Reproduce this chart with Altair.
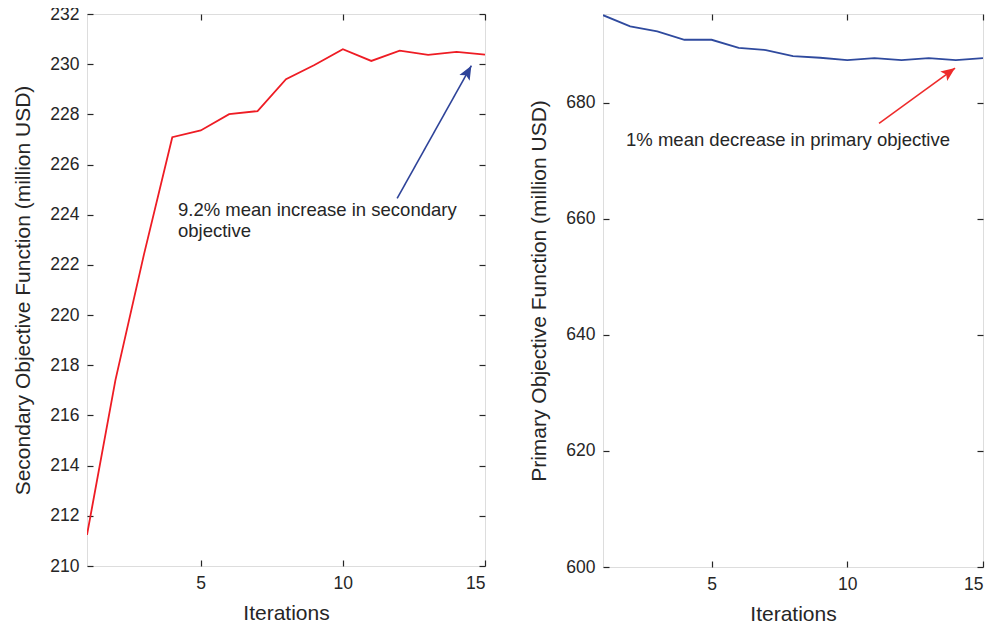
import math
import altair as alt
import pandas as pd

# ---------------- data ----------------
iterations = list(range(1, 16))
secondary = [211.24, 217.41, 222.4, 227.09, 227.36, 228.01, 228.13, 229.40,
             229.97, 230.60, 230.13, 230.54, 230.37, 230.49, 230.38]
primary = [695.1, 693.17, 692.31, 690.86, 690.86, 689.48, 689.09, 688.05,
           687.76, 687.36, 687.7, 687.36, 687.7, 687.36, 687.7]

sec_ticks = [210, 212, 214, 216, 218, 220, 222, 224, 226, 228, 230, 232]
prim_ticks = [600, 620, 640, 660, 680]
x_ticks = [5, 10, 15]

# annotations (data coordinates)
sec_arrow = dict(x=11.91, y=224.65, x2=14.52, y2=229.94)
sec_text = dict(x=4.2, y=224.19, lines=["9.2% mean increase in secondary", "objective"])
prim_arrow = dict(x=11.17, y=676.45, x2=13.97, y2=685.98)
prim_text = dict(x=1.85, y=673.6, lines=["1% mean decrease in primary objective"])

FONT = "Liberation Sans"
TXT = "#262626"
W1, H1 = 398, 552
W2, H2 = 380, 553
TICK = 6

ARROW_PATH = "M0,0L0.42,1L0,0.78L-0.42,1Z"


def make_panel(values, ydom, yticks, ytitle, color, arrow, text, acolor, W, H):
    df = pd.DataFrame({"it": iterations, "v": values})
    xs = alt.Scale(domain=[1, 15], nice=False, zero=False)
    ys = alt.Scale(domain=ydom, nice=False, zero=False)

    xaxis = alt.Axis(values=x_ticks, title="Iterations", domain=False, offset=-TICK,
                     tickSize=TICK, tickColor=TXT, tickWidth=1.2, labelPadding=8.5,
                     labelFontSize=17.5, labelColor=TXT, labelFont=FONT, grid=False,
                     titleFontSize=21, titleFont=FONT, titleColor=TXT, titleFontWeight="normal",
                     titlePadding=10)
    yaxis = alt.Axis(values=yticks, title=ytitle, domain=False, offset=-TICK,
                     tickSize=TICK, tickColor=TXT, tickWidth=1.2, labelPadding=8,
                     labelFontSize=17.5, labelColor=TXT, labelFont=FONT, grid=False,
                     titleFontSize=21, titleFont=FONT, titleColor=TXT, titleFontWeight="normal",
                     titlePadding=16)
    xaxis2 = alt.Axis(values=x_ticks, title=None, orient="top", domain=False, offset=-TICK,
                      tickSize=TICK, tickColor=TXT, tickWidth=1.2, labels=False, grid=False)
    yaxis2 = alt.Axis(values=yticks, title=None, orient="right", domain=False, offset=-TICK,
                      tickSize=TICK, tickColor=TXT, tickWidth=1.2, labels=False, grid=False)

    line = alt.Chart(df).mark_line(color=color, strokeWidth=1.8, clip=True).encode(
        x=alt.X("it:Q", scale=xs, axis=xaxis),
        y=alt.Y("v:Q", scale=ys, axis=yaxis),
    )
    mirror = alt.Chart(df).mark_line(opacity=0).encode(
        x=alt.X("it:Q", scale=xs, axis=xaxis2),
        y=alt.Y("v:Q", scale=ys, axis=yaxis2),
    )

    # arrow shaft
    adf = pd.DataFrame([arrow])
    shaft = alt.Chart(adf).mark_rule(color=acolor, strokeWidth=1.6).encode(
        x=alt.X("x:Q", scale=xs, axis=None), y=alt.Y("y:Q", scale=ys, axis=None),
        x2="x2:Q", y2="y2:Q",
    )
    # arrow head angle from pixel geometry
    px = (arrow["x2"] - arrow["x"]) / 14 * W
    py = (arrow["y2"] - arrow["y"]) / (ydom[1] - ydom[0]) * H
    ang = math.degrees(math.atan2(px, py)) % 360
    head = alt.Chart(adf).mark_point(shape=ARROW_PATH, filled=True, color=acolor,
                                     opacity=1, size=28 * 28, angle=ang, strokeWidth=0).encode(
        x=alt.X("x2:Q", scale=xs, axis=None), y=alt.Y("y2:Q", scale=ys, axis=None),
    )
    tdf = pd.DataFrame([{"x": text["x"], "y": text["y"], "t": text["lines"]}])
    label = alt.Chart(tdf).mark_text(align="left", baseline="middle", font=FONT,
                                     fontSize=18.5, color=TXT, lineHeight=21.5).encode(
        x=alt.X("x:Q", scale=xs, axis=None), y=alt.Y("y:Q", scale=ys, axis=None), text="t:N",
    )
    return alt.layer(line, mirror, shaft, head, label).resolve_axis(
        x="independent", y="independent"
    ).properties(width=W, height=H)


left = make_panel(secondary, [210, 232], sec_ticks,
                  "Secondary Objective Function (million USD)", "#ee1c24",
                  sec_arrow, sec_text, "#2e4399", W1, H1)
right = make_panel(primary, [600, 695.3], prim_ticks,
                   "Primary Objective Function (million USD)", "#2f4a9e",
                   prim_arrow, prim_text, "#ee2b2b", W2, H2)

chart = alt.hconcat(left, right, spacing=41).properties(
    padding={"left": 4, "top": -4, "right": 0, "bottom": 0}
).configure_view(stroke="#262626", strokeWidth=1.6).configure(background="white")

chart.save("out.html", embed_options={"renderer": "svg", "actions": False})
